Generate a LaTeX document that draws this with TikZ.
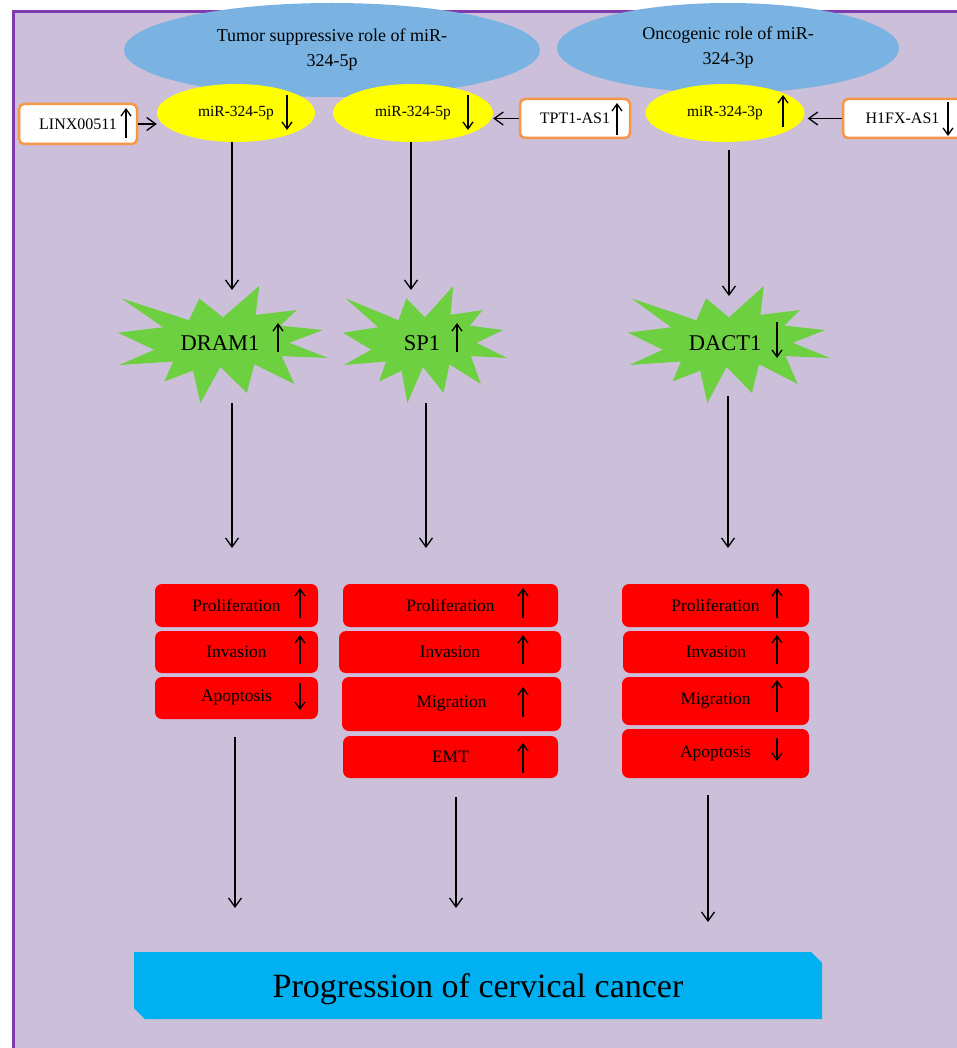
\documentclass[tikz,border=0pt]{standalone}
\usepackage{fontspec}
\setmainfont{Liberation Serif}
\usetikzlibrary{shapes.geometric,shapes.misc,arrows.meta,calc}
\definecolor{framepurple}{RGB}{128,58,176}
\definecolor{lav}{RGB}{204,191,218}
\definecolor{blueell}{RGB}{122,179,226}
\definecolor{yell}{RGB}{255,255,0}
\definecolor{orangeb}{RGB}{247,150,70}
\definecolor{burstgreen}{RGB}{108,208,64}
\definecolor{redbox}{RGB}{255,0,0}
\definecolor{cyanbox}{RGB}{0,176,240}
\tikzset{
  conn/.style={draw=black, line width=1.3pt, -{Straight Barb[length=9pt,width=13pt]}},
  ind/.style={draw=black, line width=1.3pt, -{Straight Barb[length=7pt,width=10pt]}},
  roleell/.style={ellipse, fill=blueell, inner sep=0pt, align=center, font=\fontsize{18}{25}\selectfont},
  mirell/.style={ellipse, fill=yell, inner sep=0pt, font=\fontsize{15.5}{18}\selectfont},
  lncbox/.style={rectangle, rounded corners=5pt, draw=orangeb, line width=2.5pt, fill=white, inner sep=0pt, font=\fontsize{16}{18}\selectfont},
  genetext/.style={font=\fontsize{22.5}{24}\selectfont, inner sep=0pt},
  burstarea/.style={rectangle, inner sep=0pt},
  effbox/.style={rectangle, rounded corners=7pt, fill=redbox, inner sep=0pt, font=\fontsize{17.5}{20}\selectfont},
  progbox/.style={chamfered rectangle, chamfered rectangle corners={north east,south west}, chamfered rectangle sep=5.5pt, fill=cyanbox, inner sep=0pt, text height=23pt, text depth=0pt, font=\fontsize{34}{38}\selectfont},
}
% indicator arrow inside a node: node, dx, dy start, dy end
\newcommand\indarr[4]{\draw[ind] ([shift={(#2,#3)}]#1.center) -- ([shift={(#2,#4)}]#1.center);}
% explosion shape filling a box: left, top, width/100, height/100
\newcommand\burstshape[4]{%
  \begin{scope}[shift={(#1,#2)}, x=#3pt, y=-#4pt]
    \fill[burstgreen] (50,26.85) -- (67.23,0) -- (65.53,24.65) -- (85.09,20.63) -- (77.32,33.87)
      -- (97.67,37.67) -- (81.51,48.50) -- (100,61.53) -- (77.95,59.92) -- (84.00,83.77)
      -- (64.91,66.93) -- (61.33,91.38) -- (48.76,69.14) -- (39.28,100) -- (35.72,72.35)
      -- (22.05,81.56) -- (26.24,64.52) -- (0.63,67.53) -- (17.23,54.51) -- (0,39.88)
      -- (21.42,35.26) -- (1.71,10.63) -- (33.85,29.26) -- (38.67,10.63) -- cycle;
  \end{scope}}
\begin{document}
\begin{tikzpicture}[x=1pt, y=-1pt]
\useasboundingbox (0,0) rectangle (957,1048);
\clip (0,0) rectangle (957,1048);
\fill[white] (0,0) rectangle (957,1048);
\draw[framepurple, fill=lav, line width=3pt] (13.5,11.5) rectangle (1000,1100);

% role ellipses
\node[roleell, minimum width=416pt, minimum height=94pt] (role5) at (332,50) {Tumor suppressive role of miR-\\324-5p};
\node[roleell, minimum width=342pt, minimum height=90pt] (role3) at (728,48) {Oncogenic role of miR-\\324-3p};

% miRNA ellipses
\node[mirell, minimum width=158pt, minimum height=58pt] (y1) at (236,113) {miR-324-5p};
\node[mirell, minimum width=160pt, minimum height=58pt] (y2) at (413,113) {miR-324-5p};
\node[mirell, minimum width=159pt, minimum height=58pt] (y3) at (725,113) {miR-324-3p};
\indarr{y1}{51}{-18}{17}
\indarr{y2}{55}{-18}{17}
\indarr{y3}{58}{14}{-18}

% lncRNA boxes
\node[lncbox, minimum width=118pt, minimum height=40pt] (linx) at (78,124) {LINX00511\hspace{4pt}};
\node[lncbox, minimum width=110pt, minimum height=39pt] (tpt) at (575,118.5) {TPT1-AS1\hspace{6pt}};
\node[lncbox, minimum width=119pt, minimum height=39pt] (h1fx) at (902.5,118.5) {H1FX-AS1\hspace{3pt}};
\indarr{linx}{48}{14}{-16}
\indarr{tpt}{42}{16.5}{-15.5}
\indarr{h1fx}{45.5}{-16.5}{17.5}
\draw[conn] (linx.east) -- (linx.east -| y1.west);
\draw[conn] (tpt.west) -- (tpt.west -| y2.east);
\draw[conn] (h1fx.west) -- ([xshift=3pt]h1fx.west -| y3.east);

% bursts
\burstshape{118}{286}{2.10}{1.17}
\burstshape{343}{286}{1.64}{1.17}
\burstshape{628}{286}{2.02}{1.17}
\node[burstarea, minimum width=210pt, minimum height=117pt] (s1) at (223,344.5) {};
\node[burstarea, minimum width=164pt, minimum height=117pt] (s2) at (425,344.5) {};
\node[burstarea, minimum width=202pt, minimum height=117pt] (s3) at (729,344.5) {};
\node[genetext] (t1) at (220,343) {DRAM1};
\node[genetext] (t2) at (422,343) {SP1};
\node[genetext] (t3) at (725,343) {DACT1};
\indarr{s1}{55}{7.5}{-21.5}
\indarr{s2}{32}{7.5}{-21.5}
\indarr{s3}{48}{-22.5}{13.5}

% miRNA -> gene
\coordinate (e1) at (232,290);
\coordinate (e2) at (411,290);
\coordinate (e3) at (729,296);
\draw[conn] (y1.south -| e1) -- (e1);
\draw[conn] (y2.south -| e2) -- (e2);
\draw[conn] ([yshift=-8pt]y3.south -| e3) -- (e3);

% effect boxes
\node[effbox, minimum width=163pt, minimum height=43pt] (c1p) at (236.5,605.5) {Proliferation};
\node[effbox, minimum width=163pt, minimum height=42pt] (c1i) at (236.5,652) {Invasion};
\node[effbox, minimum width=163pt, minimum height=42pt] (c1a) at (236.5,698) {Apoptosis};
\node[effbox, minimum width=215pt, minimum height=43pt] (c2p) at (450.5,605.5) {Proliferation};
\node[effbox, minimum width=222pt, minimum height=42pt] (c2i) at (450,652) {Invasion};
\node[effbox, minimum width=219pt, minimum height=54pt] (c2m) at (451.5,704) {Migration};
\node[effbox, minimum width=215pt, minimum height=42pt] (c2e) at (450.5,757) {EMT};
\node[effbox, minimum width=187pt, minimum height=43pt] (c3p) at (715.5,605.5) {Proliferation};
\node[effbox, minimum width=186pt, minimum height=42pt] (c3i) at (716,652) {Invasion};
\node[effbox, minimum width=187pt, minimum height=48pt] (c3m) at (715.5,701) {Migration};
\node[effbox, minimum width=187pt, minimum height=49pt] (c3a) at (715.5,753.5) {Apoptosis};
\indarr{c1p}{63.5}{12.5}{-17.5}
\indarr{c1i}{63.5}{12}{-17}
\indarr{c1a}{63.5}{-15}{12}
\indarr{c2p}{72.5}{12.5}{-17.5}
\indarr{c2i}{73}{12}{-17}
\indarr{c2m}{71.5}{13}{-17}
\indarr{c2e}{72.5}{16}{-14}
\indarr{c3p}{61.5}{12.5}{-17.5}
\indarr{c3i}{61}{12}{-17}
\indarr{c3m}{61.5}{11}{-21}
\indarr{c3a}{61.5}{-15.5}{7.5}

% gene -> effects
\coordinate (f1) at (232,548);
\coordinate (f2) at (426,548);
\coordinate (f3) at (728,548);
\draw[conn] (s1.south -| f1) -- (f1);
\draw[conn] (s2.south -| f2) -- (f2);
\draw[conn] ([yshift=7pt]s3.south -| f3) -- (f3);

% progression
\node[progbox, minimum width=688pt, minimum height=67pt] (prog) at (478,985.5) {Progression of cervical cancer};
\coordinate (g1) at (235,908);
\coordinate (g2) at (456,908);
\coordinate (g3) at (708,922);
\draw[conn] ([yshift=-18pt]c1a.south -| g1) -- (g1);
\draw[conn] ([yshift=-19pt]c2e.south -| g2) -- (g2);
\draw[conn] ([yshift=-17pt]c3a.south -| g3) -- (g3);
\end{tikzpicture}
\end{document}
